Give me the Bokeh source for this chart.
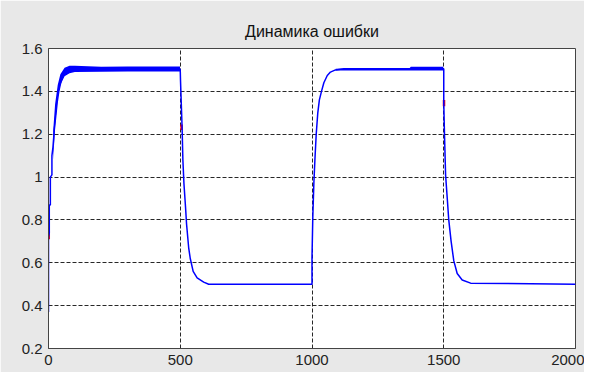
from bokeh.plotting import figure
from bokeh.models import FixedTicker, Range1d
from bokeh.embed import file_html
from bokeh.resources import INLINE

# ---- data ----
x_ticks = [0, 500, 1000, 1500, 2000]
x_tick_labels = ["0", "500", "1000", "1500", "2000"]
y_ticks = [0.2, 0.4, 0.6, 0.8, 1.0, 1.2, 1.4, 1.6]
y_tick_labels = ["0.2", "0.4", "0.6", "0.8", "1", "1.2", "1.4", "1.6"]

t_signal = [0, 0, 3, 3, 7, 7, 13, 13, 17, 22, 27, 33, 39, 48, 58, 75, 90, 498,
            500, 501, 507, 510, 514, 520, 524, 532, 538, 549, 564, 589, 608, 1000,
            1000, 1003, 1007, 1011, 1016, 1022, 1028, 1036, 1045, 1058, 1070, 1089, 1121, 1498,
            1500, 1500, 1503, 1507, 1513, 1519, 1528, 1538, 1551, 1570, 1602, 2000]
v_signal = [0.37, 0.72, 0.74, 0.87, 0.87, 1.00, 1.01, 1.10, 1.14, 1.22, 1.28, 1.35, 1.40, 1.45, 1.48, 1.495, 1.50, 1.505,
            1.50, 1.45, 1.23, 1.08, 0.97, 0.86, 0.78, 0.67, 0.62, 0.56, 0.53, 0.51, 0.50, 0.50,
            0.626, 0.81, 0.97, 1.08, 1.20, 1.30, 1.36, 1.40, 1.44, 1.474, 1.49, 1.50, 1.505, 1.505,
            1.505, 1.35, 1.19, 1.01, 0.906, 0.80, 0.70, 0.61, 0.55, 0.52, 0.505, 0.50]

# noise envelope of the first plateau
band1_t = [18, 25, 35, 45, 61, 80, 100, 200, 300, 400, 499]
band1_lo = [1.08, 1.24, 1.37, 1.43, 1.47, 1.485, 1.49, 1.492, 1.493, 1.493, 1.493]
band1_hi = [1.22, 1.34, 1.43, 1.48, 1.51, 1.52, 1.52, 1.515, 1.516, 1.516, 1.516]

# noise envelope of the second plateau
band2_t = [1090, 1200, 1370, 1375, 1498]
band2_lo = [1.497, 1.497, 1.497, 1.497, 1.497]
band2_hi = [1.506, 1.508, 1.508, 1.515, 1.515]

# red reference trace, visible only in a few short pieces
red_t0 = [1, 505, 1501]
red_v0 = [0.71, 1.22, 1.33]
red_t1 = [1, 505, 1501]
red_v1 = [0.75, 1.245, 1.36]

p = figure(width=584, height=372, output_backend="svg", toolbar_location=None,
           x_range=Range1d(0, 2000), y_range=Range1d(0.2, 1.6),
           title="Динамика ошибки", min_border_left=48, min_border_right=9,
           min_border_top=48, min_border_bottom=24)
p.frame_width = 527
p.frame_height = 300

p.border_fill_color = "#e8e8e8"
p.background_fill_color = "white"
p.outline_line_color = "#444444"
p.outline_line_width = 1

p.title.align = "center"
p.title.text_font = "Liberation Sans"
p.title.text_font_size = "16px"
p.title.text_font_style = "normal"
p.title.text_color = "#111111"
p.title.standoff = 17

for ax in (p.xaxis[0], p.yaxis[0]):
    ax.axis_line_color = "#444444"
    ax.major_tick_in = 0
    ax.major_tick_out = 0
    ax.minor_tick_in = 0
    ax.minor_tick_out = 0
    ax.major_label_text_font = "Liberation Sans"
    ax.major_label_text_font_size = "15px"
    ax.major_label_text_color = "#222222"
    ax.major_label_standoff = 6

p.xaxis[0].ticker = FixedTicker(ticks=x_ticks)
p.xaxis[0].major_label_overrides = dict(zip(x_ticks, x_tick_labels))
p.yaxis[0].ticker = FixedTicker(ticks=y_ticks)
p.yaxis[0].major_label_overrides = dict(zip(y_ticks, y_tick_labels))

for g in (p.xgrid[0], p.ygrid[0]):
    g.grid_line_color = "#111111"
    g.grid_line_alpha = 0.9
    g.grid_line_dash = "4 2"
    g.grid_line_width = 1

p.segment(x0=red_t0, y0=red_v0, x1=red_t1, y1=red_v1, color="#ff0000", line_width=2.5)
p.varea(x=band1_t, y1=band1_lo, y2=band1_hi, fill_color="#0000ff")
p.varea(x=band2_t, y1=band2_lo, y2=band2_hi, fill_color="#0000ff")
p.line(t_signal, v_signal, color="#0000ff", line_width=1.5)

open("out.html", "w").write(file_html(p, INLINE))
